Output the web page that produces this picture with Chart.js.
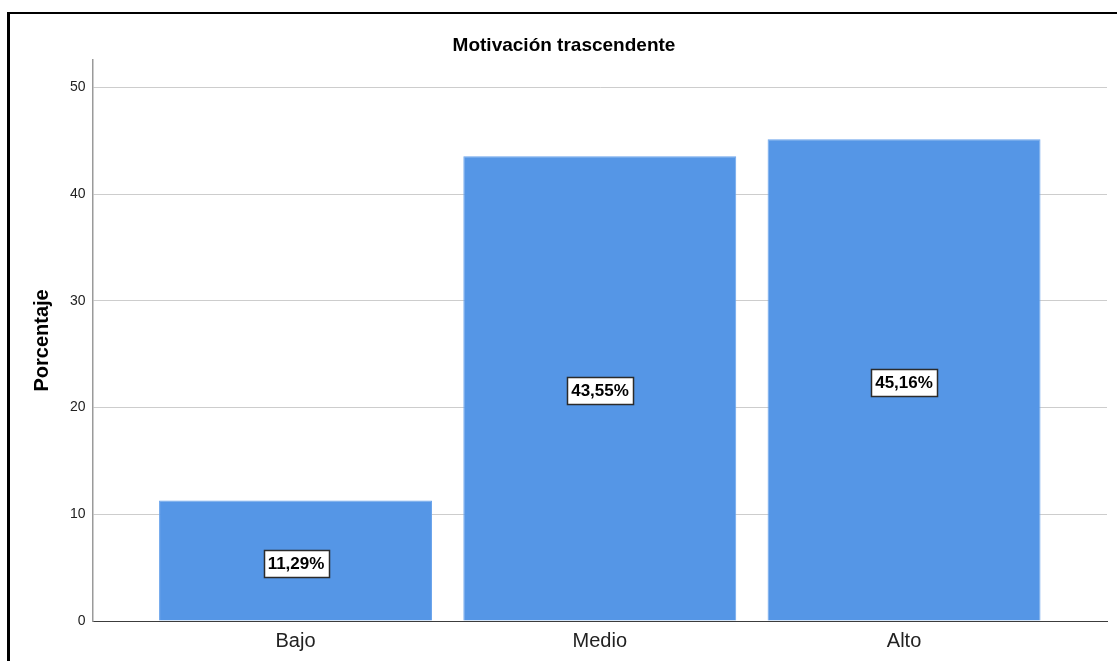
<!DOCTYPE html>
<html lang="es">
<head>
<meta charset="utf-8">
<title>Motivación trascendente</title>
<script src="https://cdn.jsdelivr.net/npm/chart.js@4/dist/chart.umd.min.js"></script>
<style>
  html, body { margin: 0; padding: 0; background: #fff; }
  #wrap { position: relative; width: 1117px; height: 661px; overflow: hidden; }
  #chart-box { position: absolute; left: 0; top: 0; width: 1117px; height: 661px; }
  .frame-left { position: absolute; left: 7px; top: 12px; width: 3px; height: 660px; background: #000; }
  .frame-top { position: absolute; left: 7px; top: 12px; width: 1110px; height: 2px; background: #000; }
</style>
</head>
<body>
<div id="wrap">
  <div id="chart-box"><canvas id="chart"></canvas></div>
  <div class="frame-left"></div>
  <div class="frame-top"></div>
</div>
<script>
// Chart content
const categories = ['Bajo', 'Medio', 'Alto'];
const percentages = [11.29, 43.55, 45.16];
const yTickValues = [0, 10, 20, 30, 40, 50];

const FONT = "'Liberation Sans', Arial, sans-serif";

// Boxed percentage labels centred on each bar
const boxedLabels = {
  id: 'boxedLabels',
  afterDatasetsDraw(chart) {
    const ctx = chart.ctx;
    const meta = chart.getDatasetMeta(0);
    ctx.save();
    ctx.font = 'bold 17px ' + FONT;
    ctx.textAlign = 'center';
    ctx.textBaseline = 'middle';
    meta.data.forEach((bar, i) => {
      const text = percentages[i].toFixed(2).replace('.', ',') + '%';
      const w = Math.round(ctx.measureText(text).width) + 8;
      const h = 27;
      const cx = Math.round(bar.x);
      const cy = Math.round((bar.y + bar.base) / 2) + 2;
      const x0 = Math.round(cx - w / 2) + 0.5;
      const y0 = Math.round(cy - h / 2) + 0.5;
      ctx.fillStyle = '#ffffff';
      ctx.fillRect(x0, y0, w, h);
      ctx.strokeStyle = '#2b2b2b';
      ctx.lineWidth = 1.5;
      ctx.strokeRect(x0, y0, w, h);
      ctx.fillStyle = '#000000';
      ctx.fillText(text, cx, cy + 1);
    });
    ctx.restore();
  }
};

new Chart(document.getElementById('chart'), {
  type: 'bar',
  data: {
    datasets: [{
      data: percentages.map((v, i) => ({ x: i, y: v })),
      backgroundColor: '#5596e6',
      borderColor: '#6aa4ec',
      borderWidth: 1,
      categoryPercentage: 1,
      barPercentage: 0.897
    }]
  },
  options: {
    responsive: true,
    maintainAspectRatio: false,
    animation: false,
    layout: { padding: { top: 30, left: 21, right: 10, bottom: 0 } },
    plugins: {
      legend: { display: false },
      tooltip: { enabled: false },
      title: {
        display: true,
        text: 'Motivación trascendente',
        color: '#000',
        font: { family: FONT, size: 19, weight: 'bold' },
        padding: { top: 4, bottom: 3 }
      }
    },
    scales: {
      x: {
        type: 'linear',
        offset: false,
        bounds: 'data',
        min: -0.667,
        max: 2.667,
        afterBuildTicks(scale) { scale.ticks = categories.map((c, i) => ({ value: i })); },
        grid: { display: false, drawTicks: false, offset: false },
        border: { display: true, color: '#3c3c3c', width: 1 },
        ticks: {
          padding: 10,
          color: '#222',
          font: { family: FONT, size: 20, lineHeight: 1 },
          callback: (v) => categories[v]
        }
      },
      y: {
        min: 0,
        max: 52.6,
        afterBuildTicks(scale) { scale.ticks = yTickValues.map(v => ({ value: v })); },
        grid: { color: '#cdcdcd', lineWidth: 1, drawTicks: false },
        border: { display: true, color: '#9a9a9a', width: 1.5 },
        ticks: {
          padding: 7,
          color: '#222',
          font: { family: FONT, size: 14 }
        },
        title: {
          display: true,
          text: 'Porcentaje',
          color: '#000',
          font: { family: FONT, size: 20, weight: 'bold' },
          padding: { top: 9, bottom: 9 }
        }
      }
    }
  },
  plugins: [boxedLabels]
});
</script>
</body>
</html>
